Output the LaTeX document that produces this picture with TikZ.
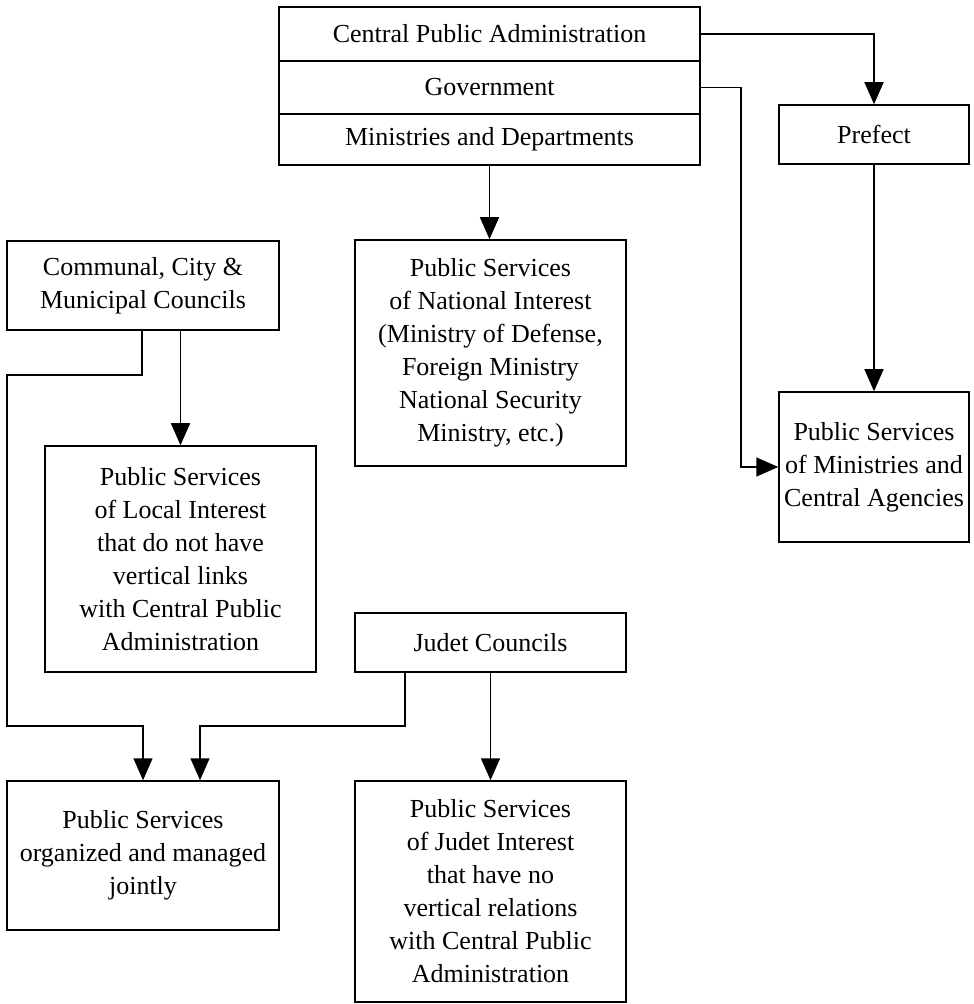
\documentclass[tikz,border=0pt]{standalone}
\usepackage{fontspec}
\setmainfont{Liberation Serif}
\usepackage{tikz}
\usetikzlibrary{arrows.meta, positioning}

\begin{document}
\begin{tikzpicture}[x=0.5pt, y=-0.5pt,
  box/.style={draw, line width=0.75pt, align=center, inner sep=0pt, font=\fontsize{13}{16.5}\selectfont},
  arr/.style={line width=0.75pt, -{Triangle[length=11pt, width=9.5pt]}}]
  \useasboundingbox (0,0) rectangle (973,1004);
  \node[box, minimum width=210.5pt, minimum height=27pt] (cpa) at (489.5,34) {Central Public Administration};
  \node[box, minimum width=210.5pt, minimum height=26.5pt] (gov) at (489.5,87.5) {Government};
  \node[box, minimum width=210.5pt, minimum height=25.5pt] (mindep) at (489.5,139.5) {Ministries and Departments};
  \node[box, minimum width=95pt, minimum height=29.5pt] (prefect) at (874,134.5) {Prefect};
  \node[box, minimum width=95pt, minimum height=75pt] (psmin) at (874,467) {Public Services\\of Ministries and\\Central Agencies};
  \node[box, minimum width=135.5pt, minimum height=113pt] (psnat) at (490.5,353) {Public Services\\of National Interest\\(Ministry of Defense,\\Foreign Ministry\\National Security\\Ministry, etc.)};
  \node[box, minimum width=136pt, minimum height=44.5pt] (comm) at (143,285.5) {Communal, City \&\\Municipal Councils};
  \node[box, minimum width=135.5pt, minimum height=113pt] (psloc) at (180.5,559) {Public Services\\of Local Interest\\that do not have\\vertical links\\with Central Public\\Administration};
  \node[box, minimum width=135.5pt, minimum height=29.5pt] (judet) at (490.5,642.5) {Judet Councils};
  \node[box, minimum width=136pt, minimum height=74.5pt] (joint) at (143,855.5) {Public Services\\organized and managed\\jointly};
  \node[box, minimum width=135.5pt, minimum height=110.5pt] (psjud) at (490.5,891.5) {Public Services\\of Judet Interest\\that have no\\vertical relations\\with Central Public\\Administration};

  \coordinate (gbend) at (741,86);
  \coordinate (cbend) at (142,375);
  \coordinate (lbend) at (7,726);
  \coordinate (jbend) at (405,726);
  \coordinate (jointa) at (143,0);
  \coordinate (jointb) at (200,0);

  \draw[arr] (cpa.east) -| (prefect.north);
  \draw[arr] (gov.east) -- (gov.east -| gbend) |- (psmin.west);
  \draw[arr] (mindep.south) -- (mindep.south |- psnat.north);
  \draw[arr] (prefect.south) -- (psmin.north);
  \draw[arr] (comm.south -| psloc.north) -- (psloc.north);
  \draw[arr] (comm.south -| cbend) -- (cbend) -| (lbend) -| (joint.north -| jointa);
  \draw[arr] (judet.south -| jbend) -- (jbend) -| (joint.north -| jointb);
  \draw[arr] (judet.south) -- (psjud.north);
\end{tikzpicture}
\end{document}
